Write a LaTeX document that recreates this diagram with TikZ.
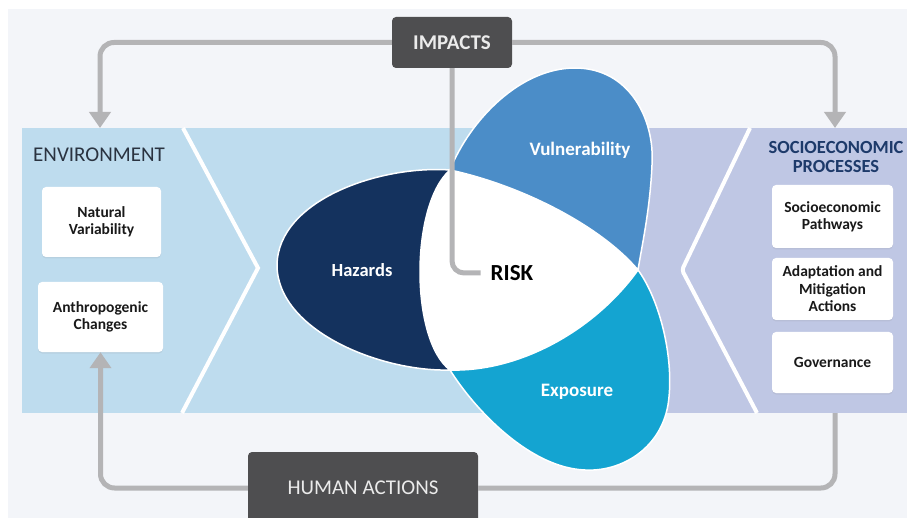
\documentclass[tikz,border=0pt]{standalone}
\usepackage{fontspec}
\setmainfont{Carlito}
\usetikzlibrary{arrows.meta, positioning, shadows}
\definecolor{panelgray}{HTML}{F3F5F9}
\definecolor{envblue}{HTML}{BEDCEE}
\definecolor{socviolet}{HTML}{BFC7E4}
\definecolor{hazardnavy}{HTML}{14325E}
\definecolor{vulnblue}{HTML}{4B8DC8}
\definecolor{expocyan}{HTML}{14A4D1}
\definecolor{linegray}{HTML}{B4B4B6}
\definecolor{boxdark}{HTML}{4E4E50}
\definecolor{headnavy}{HTML}{1D3A6A}
\definecolor{envtext}{HTML}{2A3340}

\begin{document}
\begin{tikzpicture}[
    x=1pt, y=-1pt,
    factorbox/.style={rectangle, rounded corners=4pt, fill=white, align=center,
                      font=\fontsize{15.5}{17}\selectfont\bfseries, text=black!90,
                      inner sep=0pt, minimum width=121pt,
                      drop shadow={opacity=0.12, shadow xshift=0pt, shadow yshift=-1.5pt}},
    darkbox/.style={rectangle, rounded corners=4pt, fill=boxdark, text=white!92!black,
                    font=\fontsize{21}{23}\selectfont, inner sep=0pt},
    petaltext/.style={font=\fontsize{19}{21}\selectfont\bfseries, text=white},
    petal/.style={draw=white, line width=1.5pt},
    feedback/.style={draw=linegray, line width=5pt, rounded corners=14pt},
    feedarrow/.style={feedback, -{Triangle[length=16pt, width=21pt]}}
  ]
    % Page and light panel
    \useasboundingbox (0,0) rectangle (907,518);
    \fill[white] (0,0) rectangle (907,518);
    \fill[panelgray] (8,9) rectangle (907,518);

    % Band: environment side blue, socioeconomic side violet
    \fill[envblue] (22,128) rectangle (907,413);
    \fill[socviolet] (560,128) rectangle (907,413);
    \draw[white, line width=4pt] (183,128) -- (258,268) -- (182,413);
    \draw[white, line width=4pt, rounded corners=3pt] (750,128) -- (682,270) -- (757,413);

    % Risk propeller — petals first, white centre on top
    \coordinate (pa) at (450,170);
    \coordinate (pb) at (638,270);
    \coordinate (pc) at (450,370);
    \draw[petal, fill=hazardnavy] (pa) .. controls (380,165) and (278,200) .. (277,265)
      .. controls (277,330) and (380,372) .. (pc)
      .. controls (410,340) and (410,205) .. (pa) -- cycle;
    \draw[petal, fill=vulnblue] (pa) .. controls (470,120) and (520,68) .. (575,68)
      .. controls (630,68) and (655,120) .. (652,165)
      .. controls (650,210) and (642,245) .. (pb)
      .. controls (600,225) and (520,185) .. (pa) -- cycle;
    \draw[petal, fill=expocyan] (pb) .. controls (660,300) and (675,360) .. (668,405)
      .. controls (660,450) and (620,472) .. (585,470)
      .. controls (530,468) and (475,410) .. (pc)
      .. controls (520,372) and (595,330) .. (pb) -- cycle;
    \fill[white] (pa) .. controls (520,185) and (600,225) .. (pb)
      .. controls (595,330) and (520,372) .. (pc)
      .. controls (410,340) and (410,205) .. (pa) -- cycle;

    \node[petaltext, font=\fontsize{18.5}{20}\selectfont\bfseries] (hazards) at (362,270) {Hazards};
    \node[petaltext] (vulnerability) at (580,150) {Vulnerability};
    \node[petaltext] (exposure) at (577,392) {Exposure};
    \node[font=\fontsize{23}{25}\selectfont\bfseries, text=black, inner sep=2pt] (risk) at (512,273) {RISK};

    % Side headings
    \node[anchor=west, inner sep=0pt, text=envtext, font=\fontsize{21}{23}\selectfont]
      (envlabel) at (33,155) {ENVIRONMENT};
    \node[align=center, inner sep=0pt, text=headnavy, font=\fontsize{18.5}{19.5}\selectfont\bfseries]
      (soclabel) at (836,157) {SOCIOECONOMIC\\PROCESSES};

    % Factor boxes
    \node[factorbox, minimum width=119pt, minimum height=70pt] (natural) at (101.5,222) {Natural\\Variability};
    \node[factorbox, minimum width=125pt, minimum height=70pt] (anthro) at (100.5,317) {Anthropogenic\\Changes};
    \node[factorbox, minimum height=63pt] (pathways) at (832.5,216.5) {Socioeconomic\\Pathways};
    \node[factorbox, minimum height=62pt, font=\fontsize{15.5}{17.5}\selectfont\bfseries] (adapt) at (832.5,289) {Adaptation and\\Mitigation\\Actions};
    \node[factorbox, minimum height=61pt] (governance) at (832.5,362.5) {Governance};

    % Drivers
    \node[darkbox, font=\fontsize{21}{23}\selectfont\bfseries, minimum width=120pt, minimum height=51pt]
      (impacts) at (452,42.5) {IMPACTS};
    \node[darkbox, minimum width=230pt, minimum height=72pt] (human) at (363,488) {HUMAN ACTIONS};

    % Feedback loops
    \coordinate (envtop) at (100,128);
    \coordinate (soctop) at (835,128);
    \coordinate (socbot) at (835,413);
    \draw[feedarrow] (impacts.west) -| (envtop);
    \draw[feedarrow] (impacts.east) -| (soctop);
    \draw[feedback, rounded corners=12pt, shorten >=8pt] (impacts.south) |- (risk.west);
    \draw[feedarrow] (human.west) -| (anthro.south);
    \draw[feedback] (human.east) -| (socbot);
  \end{tikzpicture}
\end{document}
